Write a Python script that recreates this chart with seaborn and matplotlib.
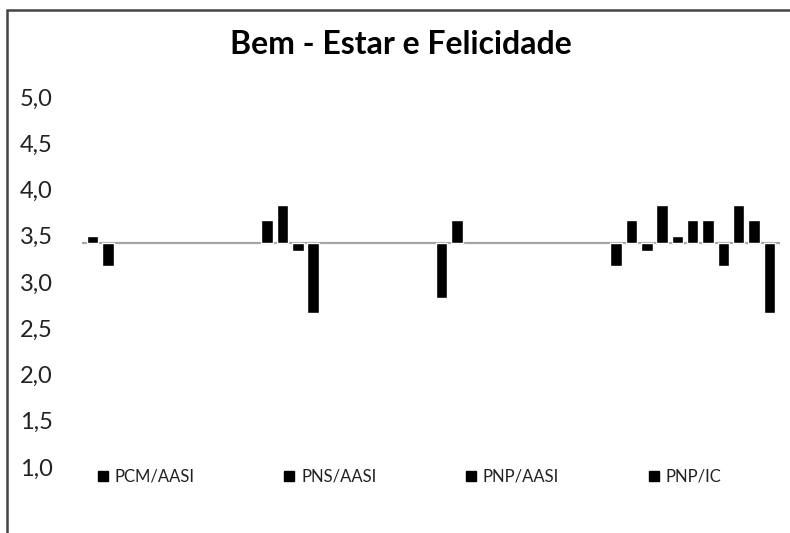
import numpy as np
import pandas as pd
import seaborn as sns
import matplotlib.pyplot as plt
from matplotlib.patches import Rectangle
from matplotlib.lines import Line2D

# grupos (categorias do eixo x) e escores por participante
grupos = ['PCM/AASI', 'PNS/AASI', 'PNP/AASI', 'PNP/IC']
pcm_aasi = [3.50, 3.17]
pns_aasi = [3.67, 3.83, 3.33, 2.67]
pnp_aasi = [2.83, 3.67]
pnp_ic = [3.17, 3.67, 3.33, 3.83, 3.50, 3.67, 3.67, 3.17, 3.83, 3.67, 2.67]

# eixo horizontal cruza na media
base = 3.42

# montar tabela longa
rows = []
for g, vals in zip(grupos, [pcm_aasi, pns_aasi, pnp_aasi, pnp_ic]):
    for i, v in enumerate(vals):
        rows.append({'grupo': g, 'participante': i + 1, 'escore': v - base})
df = pd.DataFrame(rows)
n_part = max(len(pcm_aasi), len(pns_aasi), len(pnp_aasi), len(pnp_ic))

sns.set_style('white')
plt.rcParams['font.family'] = ['Lato', 'DejaVu Sans']

fig = plt.figure(figsize=(7.9, 5.33), dpi=100)
ax = fig.add_axes([82 / 790, 66 / 533, 698 / 790, 370 / 533])

sns.barplot(data=df, x='grupo', y='escore', hue='participante',
            hue_order=list(range(1, n_part + 1)), order=grupos,
            palette=['black'] * n_part, width=0.966, gap=0.25,
            errorbar=None, legend=False, bottom=base, ax=ax, saturation=1)

ax.axhline(base, color='#a6a6a6', lw=1.6, zorder=0)
ax.set_ylim(1.0, 5.0)
ax.set_xlim(-0.5, 3.5)
ax.set_yticks(np.arange(1.0, 5.01, 0.5))
ax.set_yticklabels([f'{t:.1f}'.replace('.', ',') for t in np.arange(1.0, 5.01, 0.5)],
                   fontsize=17, color='#222222')
ax.tick_params(axis='y', length=0, pad=21)
ax.set_xticks([])
ax.set_xlabel('')
ax.set_ylabel('')
for s in ax.spines.values():
    s.set_visible(False)

# titulo
fig.text(0.507, 1 - 44 / 533, 'Bem - Estar e Felicidade', ha='center', va='center',
         fontsize=23, fontweight='bold', color='black')

# legenda com os grupos
handles = [Line2D([], [], marker='s', color='black', linestyle='', markersize=7) for g in grupos]
fig.legend(handles, grupos, ncol=4, loc='center', bbox_to_anchor=(0.5175, 1 - 477 / 533),
           frameon=False, fontsize=12, handletextpad=0.3, columnspacing=5.3,
           handlelength=0.8, labelcolor='#222222')

# moldura da imagem
fig.patches.append(Rectangle((7 / 790, -0.1), 1.2, 1 - 10 / 533 + 0.1, transform=fig.transFigure,
                             fill=False, edgecolor='#444444', lw=1.8))

plt.savefig('out.png', dpi=100)
